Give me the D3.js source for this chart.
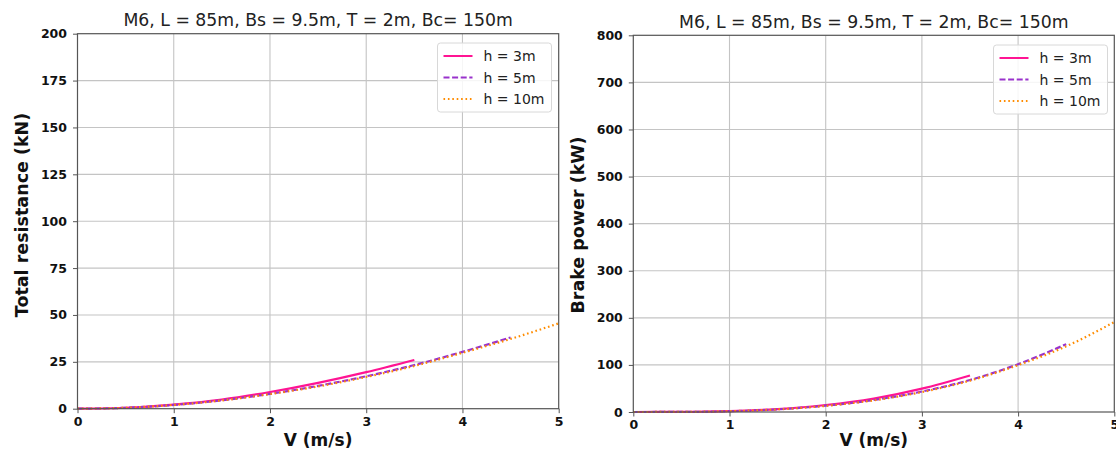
<!DOCTYPE html>
<html>
<head>
<meta charset="utf-8">
<script src="https://cdn.jsdelivr.net/npm/d3@7"></script>
<style>
  body { margin: 0; background: #fff; }
  svg { display: block; font-family: "DejaVu Sans", sans-serif; }
</style>
</head>
<body>
<svg id="chart" width="1116" height="454"></svg>
<script>
// data
var title = "M6, L = 85m, Bs = 9.5m, T = 2m, Bc= 150m";
var speed = [0, 0.5, 1, 1.5, 2, 2.5, 3, 3.5, 4, 4.5, 5];
var seriesNames = ["h = 3m", "h = 5m", "h = 10m"];

// total resistance (kN)
var resist3 = [0, 0.5, 2.2, 4.9, 8.9, 13.8, 19.5, 26.0];
var resist5 = [0, 0.5, 2.0, 4.5, 7.9, 12.2, 17.3, 23.3, 30.3, 38.0];
var resist10 = [0, 0.5, 2.0, 4.4, 7.8, 11.9, 16.9, 22.8, 29.8, 37.2, 45.5];

// brake power (kW)
var power3 = [0, 0.2, 1.8, 6.2, 14.8, 28.5, 49.5, 77.5];
var power5 = [0, 0.2, 1.7, 5.6, 13.4, 25.5, 43.5, 68.0, 101.5, 144.0];
var power10 = [0, 0.2, 1.7, 5.5, 13.0, 24.8, 42.3, 66.6, 99.5, 139.5, 191.0];

var xTicks = [0, 1, 2, 3, 4, 5];
var resistTicks = [0, 25, 50, 75, 100, 125, 150, 175, 200];
var powerTicks = [0, 100, 200, 300, 400, 500, 600, 700, 800];

var colors = ["#ff1493", "#9932cc", "#ff8c00"];
var dashes = [null, "6,2.6", "1.6,2.8"];

var svg = d3.select("#chart");

function drawPanel(opt) {
  var x = d3.scaleLinear().domain([0, 5]).range([opt.left, opt.right]);
  var y = d3.scaleLinear().domain([0, opt.ymax]).range([opt.bottom, opt.top]);
  var g = svg.append("g");

  // grid
  g.append("g").selectAll("line")
    .data(xTicks.slice(1, -1)).enter().append("line")
    .attr("x1", function(d) { return x(d); }).attr("x2", function(d) { return x(d); })
    .attr("y1", opt.top).attr("y2", opt.bottom)
    .attr("stroke", "#c4c4c4").attr("stroke-width", 1.1);
  g.append("g").selectAll("line")
    .data(opt.yTicks.slice(1, -1)).enter().append("line")
    .attr("x1", opt.left).attr("x2", opt.right)
    .attr("y1", function(d) { return y(d); }).attr("y2", function(d) { return y(d); })
    .attr("stroke", "#c4c4c4").attr("stroke-width", 1.1);

  // lines
  var line = d3.line()
    .x(function(d) { return x(d[0]); })
    .y(function(d) { return y(d[1]); })
    .curve(d3.curveMonotoneX);

  opt.series.forEach(function(vals, i) {
    var pts = vals.map(function(v, j) { return [speed[j], v]; });
    g.append("path")
      .attr("d", line(pts))
      .attr("fill", "none")
      .attr("stroke", colors[i])
      .attr("stroke-width", 2.2)
      .attr("stroke-dasharray", dashes[i]);
  });

  // axes
  var xAxis = g.append("g")
    .attr("transform", "translate(0," + opt.bottom + ")")
    .call(d3.axisBottom(x).tickValues(xTicks).tickFormat(d3.format("d")).tickSize(4.5).tickPadding(4));
  var yAxis = g.append("g")
    .attr("transform", "translate(" + opt.left + ",0)")
    .call(d3.axisLeft(y).tickValues(opt.yTicks).tickFormat(d3.format("d")).tickSize(4.5).tickPadding(6));
  [xAxis, yAxis].forEach(function(a) {
    a.select(".domain").remove();
    a.selectAll("line").attr("stroke", "#555");
    a.selectAll("text").attr("font-family", "DejaVu Sans").attr("font-weight", "bold")
      .attr("font-size", 12.5).attr("fill", "#111");
  });

  // frame
  g.append("rect")
    .attr("x", opt.left).attr("y", opt.top)
    .attr("width", opt.right - opt.left).attr("height", opt.bottom - opt.top)
    .attr("fill", "none").attr("stroke", "#555").attr("stroke-width", 1.2);

  // title and labels
  g.append("text")
    .attr("x", (opt.left + opt.right) / 2).attr("y", opt.top - 7.5)
    .attr("text-anchor", "middle").attr("font-size", 17.3).attr("fill", "#222")
    .text(title);
  g.append("text")
    .attr("x", (opt.left + opt.right) / 2).attr("y", 446)
    .attr("text-anchor", "middle").attr("font-size", 17).attr("font-weight", "bold").attr("fill", "#111")
    .text("V (m/s)");
  g.append("text")
    .attr("transform", "translate(" + opt.ylabelX + "," + opt.ylabelY + ") rotate(-90)")
    .attr("text-anchor", "middle").attr("font-size", 17.5).attr("font-weight", "bold").attr("fill", "#111")
    .text(opt.ylabel);

  // legend
  var lg = g.append("g").attr("transform", "translate(" + opt.legendX + "," + opt.legendY + ")");
  lg.append("rect")
    .attr("width", 114).attr("height", 69).attr("rx", 3)
    .attr("fill", "#fff").attr("fill-opacity", 0.85)
    .attr("stroke", "#d8d8d8");
  seriesNames.forEach(function(name, i) {
    var yy = 13 + i * 21.5;
    lg.append("line")
      .attr("x1", 6).attr("x2", 35).attr("y1", yy).attr("y2", yy)
      .attr("stroke", colors[i]).attr("stroke-width", 2)
      .attr("stroke-dasharray", dashes[i]);
    lg.append("text")
      .attr("x", 46).attr("y", yy + 5)
      .attr("font-size", 14).attr("fill", "#222")
      .text(name);
  });
}

drawPanel({
  left: 77.5, right: 558.7, top: 33.7, bottom: 408.7,
  ymax: 200, yTicks: resistTicks,
  series: [resist3, resist5, resist10],
  ylabel: "Total resistance (kN)", ylabelX: 28, ylabelY: 215,
  legendX: 437.5, legendY: 43
});

drawPanel({
  left: 633.3, right: 1114.3, top: 35.3, bottom: 412,
  ymax: 800, yTicks: powerTicks,
  series: [power3, power5, power10],
  ylabel: "Brake power (kW)", ylabelX: 584, ylabelY: 225,
  legendX: 993.5, legendY: 45
});
</script>
</body>
</html>
